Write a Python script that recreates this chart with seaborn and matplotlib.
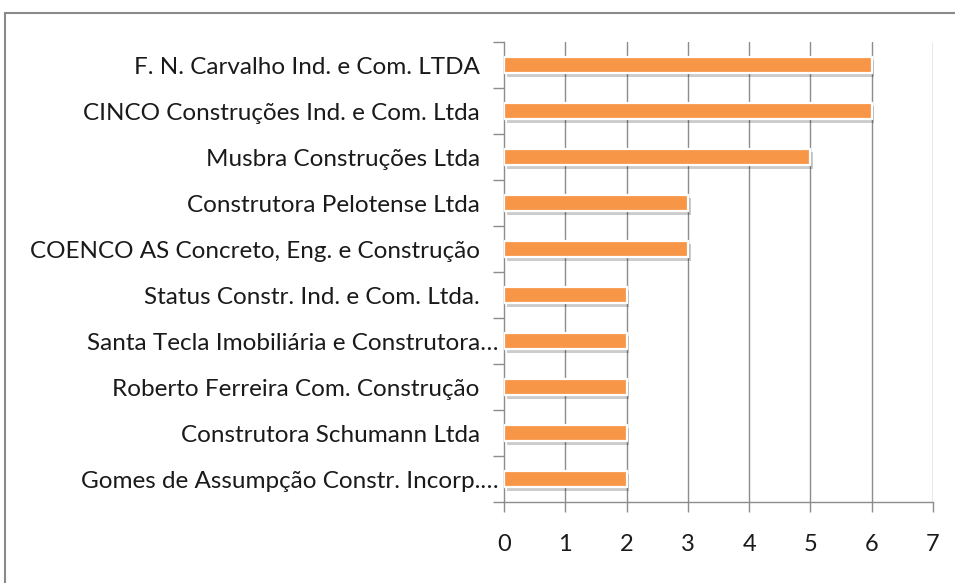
import matplotlib
matplotlib.use("Agg")
import matplotlib.pyplot as plt
import matplotlib.patheffects as pe
from matplotlib.patches import Rectangle
import seaborn as sns
import pandas as pd
import numpy as np

companies = [
    "F. N. Carvalho Ind. e Com. LTDA",
    "CINCO Construções Ind. e Com. Ltda",
    "Musbra Construções Ltda",
    "Construtora Pelotense Ltda",
    "COENCO AS Concreto, Eng. e Construção",
    "Status Constr. Ind. e Com. Ltda.",
    "Santa Tecla Imobiliária e Construtora…",
    "Roberto Ferreira Com. Construção",
    "Construtora Schumann Ltda",
    "Gomes de Assumpção Constr. Incorp.…",
]
values = [6, 6, 5, 3, 3, 2, 2, 2, 2, 2]
x_ticks = [0, 1, 2, 3, 4, 5, 6, 7]

df = pd.DataFrame({"company": companies, "value": values})

sns.set_theme(style="white")
plt.rcParams["font.family"] = ["Lato", "DejaVu Sans"]

fig = plt.figure(figsize=(9.55, 5.83), dpi=100)
ax = fig.add_axes([504/955, 1 - 502/583, (933 - 504)/955, (502 - 42)/583])

sns.barplot(data=df, x="value", y="company", ax=ax, color="#F79646",
            saturation=1, width=0.36, edgecolor="white", linewidth=1.6,
            zorder=3)
for p in ax.patches:
    p.set_path_effects([pe.SimplePatchShadow(offset=(2, -2.5), shadow_rgbFace="#000000", alpha=0.2), pe.Normal()])

ax.set_xlim(0, 7)
ax.set_ylim(len(companies) - 0.5, -0.5)
ax.set_xticks(x_ticks)
ax.set_xticklabels([str(t) for t in x_ticks])
ax.set_yticks(range(len(companies)))
ax.set_yticklabels([c if c.endswith("…") else c + "   " for c in companies])
ax.set_xlabel("")
ax.set_ylabel("")

for t in x_ticks[1:]:
    ax.axvline(t, color="#8c8c8c", linewidth=1.0, zorder=1)

for s in ["top", "right"]:
    ax.spines[s].set_visible(False)
for s in ["left", "bottom"]:
    ax.spines[s].set_color("#8c8c8c")
    ax.spines[s].set_linewidth(1.0)

ax.tick_params(axis="x", which="major", direction="out", length=7, width=1,
               color="#8c8c8c", pad=16, labelsize=17, labelcolor="#1a1a1a", bottom=True)
ax.tick_params(axis="y", which="major", length=0, pad=4, labelsize=17.5, labelcolor="#1a1a1a")
ax.set_yticks(np.arange(-0.5, len(companies), 1.0), minor=True)
ax.tick_params(axis="y", which="minor", direction="out", length=8, width=1, color="#8c8c8c", left=True)

fig.patches.append(Rectangle((5/955, -0.05), 2.0, (583 - 13)/583 + 0.05,
                             transform=fig.transFigure, fill=False,
                             edgecolor="#8a8a8a", linewidth=1.5))

fig.savefig("out.png", dpi=100, facecolor="white")
